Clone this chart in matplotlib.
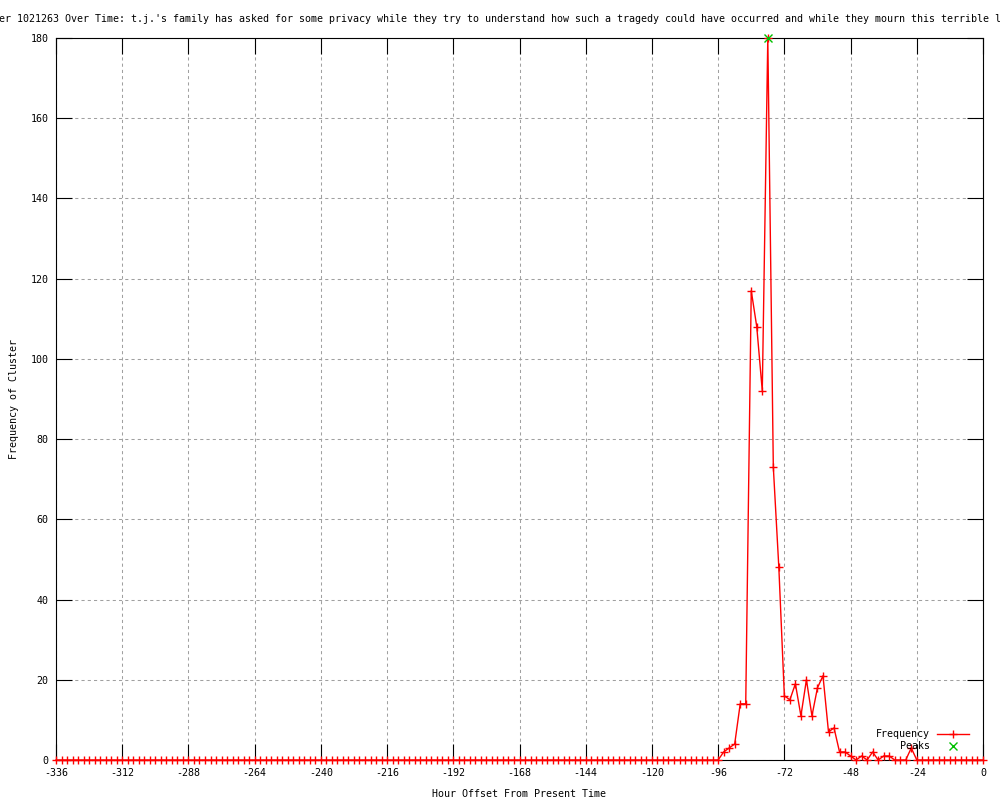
import numpy as np
import matplotlib
matplotlib.use('Agg')
import matplotlib.pyplot as plt

plt.rcParams['font.family'] = ['DejaVu Sans Mono']
plt.rcParams['font.size'] = 7.2
plt.rcParams['axes.unicode_minus'] = False

title = ("Frequency of Cluster 1021263 Over Time: t.j.'s family has asked for some privacy "
         "while they try to understand how such a tragedy could have occurred and while they "
         "mourn this terrible loss.")

# one sample every two hours, -336 .. 0
hours = np.arange(-336, 1, 2)
freq = [0] * 121 + [
    2, 3, 4, 14, 14, 117, 108, 92, 180, 73, 48, 16, 15, 19, 11, 20, 11, 18,
    21, 7, 8, 2, 2, 1, 0, 1, 0, 2, 0, 1, 1, 0, 0, 0, 3,
] + [0] * 13

peak_x = [-78]
peak_y = [180]

xticks = list(range(-336, 1, 24))
yticks = list(range(0, 181, 20))

fig = plt.figure(figsize=(10, 8), dpi=100)
ax = fig.add_axes([0.056, 0.05, 0.927, 0.9025])

ax.plot(hours, freq, color='red', lw=1.0, marker='+', ms=6, mew=1.0,
        label='Frequency', clip_on=False, zorder=3)
ax.plot(peak_x, peak_y, ls='none', color='#00c000', marker='x', ms=6, mew=1.0,
        label='Peaks', clip_on=False, zorder=4)

ax.set_xlim(-336, 0)
ax.set_ylim(0, 180)
ax.set_xticks(xticks)
ax.set_yticks(yticks)
ax.tick_params(direction='in', length=11.5, width=0.8, top=True, right=True,
               pad=5.5, labelsize=7.2)
ax.grid(True, color='#a0a0a0', lw=0.75, ls=(0, (3, 3)))
for s in ax.spines.values():
    s.set_linewidth(0.8)

ax.set_xlabel('Hour Offset From Present Time', labelpad=8.5)
ax.set_ylabel('Frequency of Cluster', labelpad=8)

# title is wider than the canvas, clipped at both sides as in the original
fig.text(-0.109, 0.976, title, ha='left', va='center', fontsize=7.2)

ax.legend(loc='lower right', bbox_to_anchor=(0.985, 0.012), frameon=False,
          markerfirst=False, numpoints=1, handlelength=3.2, handletextpad=0.7,
          labelspacing=0.2, borderpad=0, borderaxespad=0, fontsize=7.2)

fig.savefig('out.png', dpi=100)
